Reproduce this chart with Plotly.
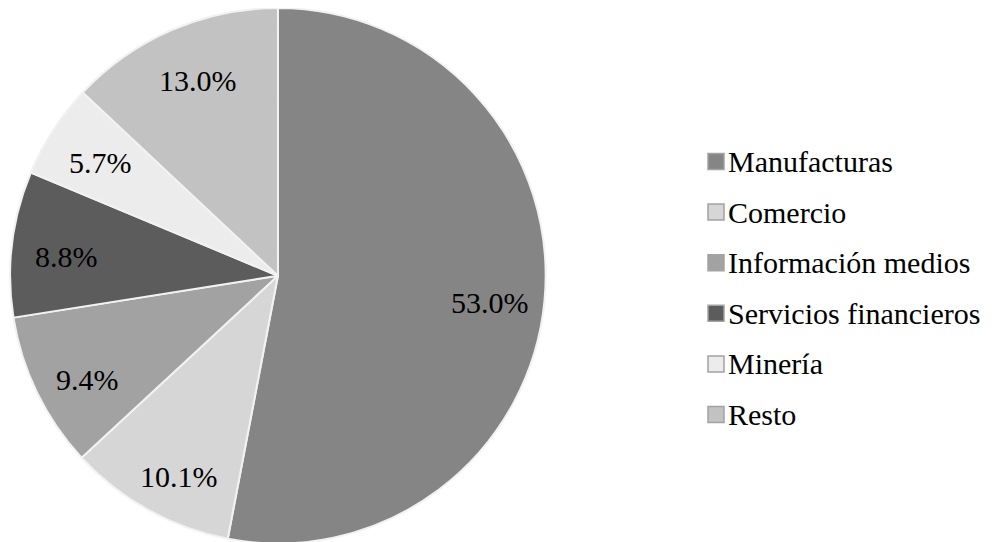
import math
import plotly.graph_objects as go

categories = ["Manufacturas", "Comercio", "Información medios", "Servicios financieros", "Minería", "Resto"]
values = [53.0, 10.1, 9.4, 8.8, 5.7, 13.0]
colors = ["#858585", "#d6d6d6", "#a2a2a2", "#5c5c5c", "#ececec", "#c2c2c2"]

FONT = "Liberation Serif"
W, H = 996, 542
CX, CY, R = 278, 275, 266      # pie centre / radius in pixels (layout)


def black(s):
    return f"<span style='color:#000000'>{s}</span>"


fig = go.Figure()
fig.add_trace(go.Pie(
    labels=categories,
    values=values,
    sort=False,
    direction="clockwise",
    rotation=0,
    marker=dict(colors=colors, line=dict(color="#f2f2f2", width=2)),
    textinfo="none",
    showlegend=False,
    domain=dict(x=[0.0, 0.542], y=[0.012, 1.0]),
    hoverinfo="label+percent",
))

# percentage labels, placed at the middle angle of each slice
total = sum(values)
cum = 0.0
for v in values:
    share = v / total
    mid = (cum + v / 2) / total * 2 * math.pi
    cum += v
    frac = 0.77 if share > 0.5 else 0.83
    dx = frac * R * math.sin(mid)
    dy = -frac * R * math.cos(mid)
    fig.add_annotation(
        x=(CX + dx) / W, y=1 - (CY + dy) / H, xref="paper", yref="paper",
        text=black(f"{share * 100:.1f}%"), showarrow=False,
        xanchor="center", yanchor="middle",
        font=dict(family=FONT, size=30),
    )

# legend built from the categories
LEG_X, LEG_Y0, LEG_DY, SQ = 700, 153.5, 50.6, 16
for i, (cat, col) in enumerate(zip(categories, colors)):
    yc = LEG_Y0 + i * LEG_DY
    fig.add_shape(
        type="rect", xref="paper", yref="paper",
        x0=LEG_X / W, x1=(LEG_X + SQ) / W,
        y0=1 - (yc + SQ / 2) / H, y1=1 - (yc - SQ / 2) / H,
        fillcolor=col, line=dict(color="#a3a3a3", width=1.5),
    )
    fig.add_annotation(
        x=(LEG_X + SQ + 2) / W, y=1 - yc / H, xref="paper", yref="paper",
        text=black(cat), showarrow=False, xanchor="left", yanchor="middle",
        font=dict(family=FONT, size=30),
    )

fig.update_layout(
    width=W, height=H,
    margin=dict(l=0, r=0, t=0, b=0),
    paper_bgcolor="white", plot_bgcolor="white",
    showlegend=False,
)

fig.write_html("out.html")
